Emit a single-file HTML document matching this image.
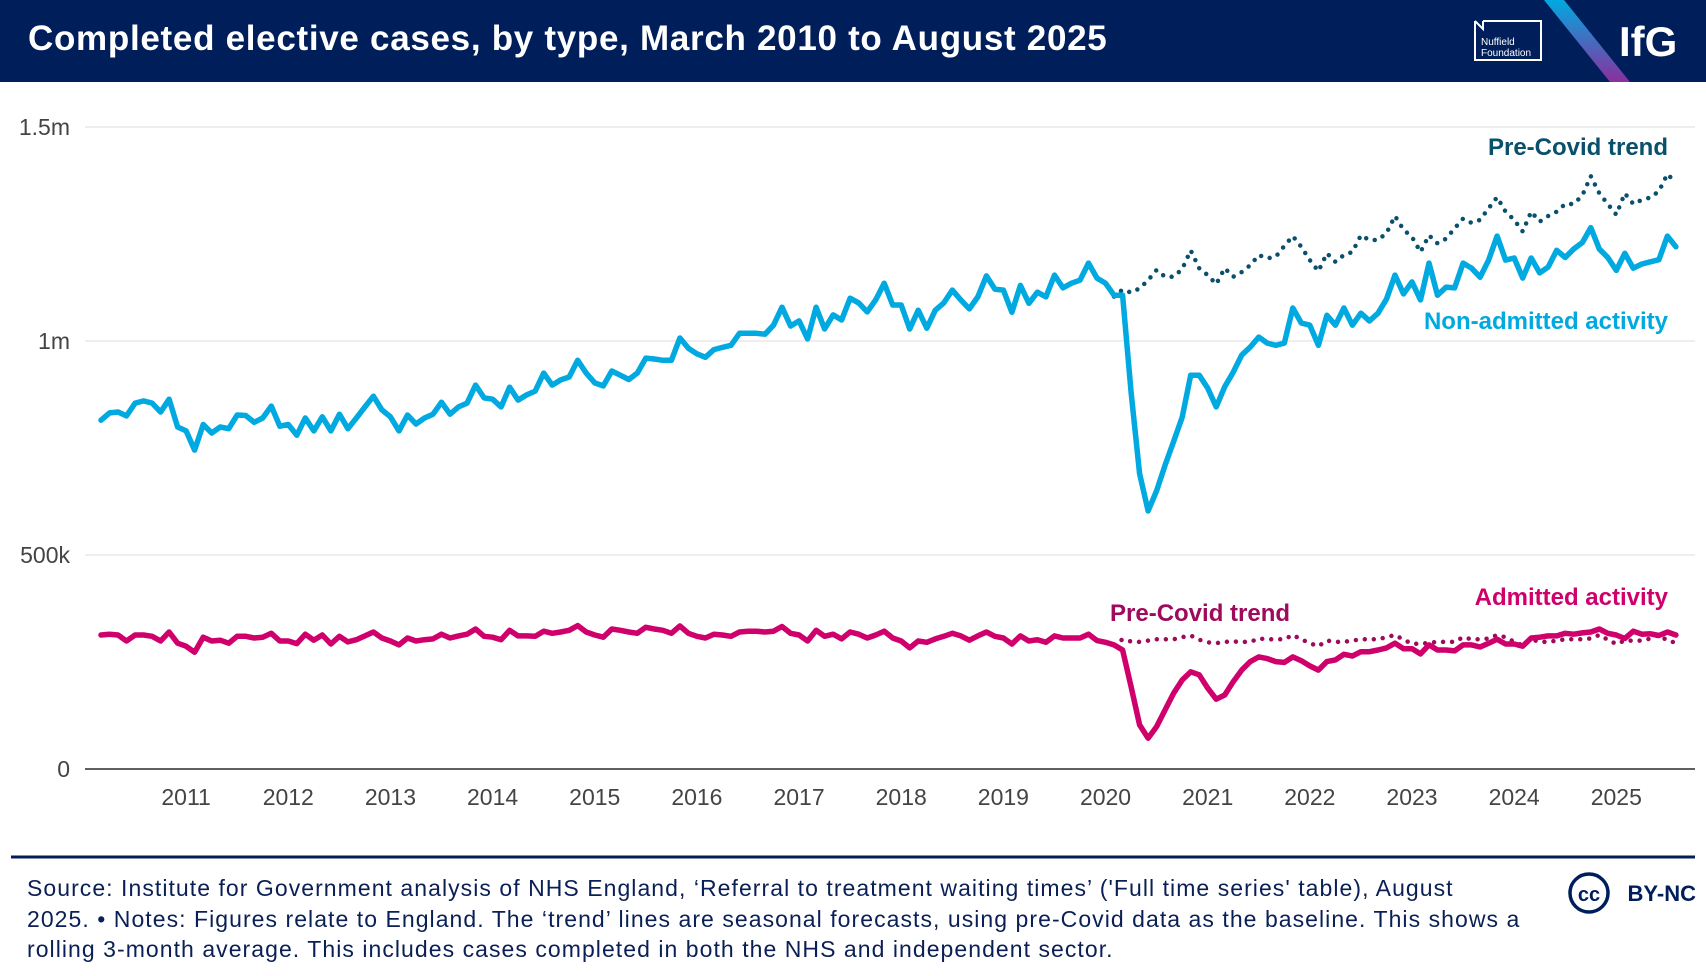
<!DOCTYPE html>
<html><head><meta charset="utf-8">
<style>
html,body{margin:0;padding:0;background:#fff;}
body{width:1706px;height:976px;position:relative;overflow:hidden;font-family:"Liberation Sans",sans-serif;}
#hdr{position:absolute;left:0;top:0;width:1706px;height:82px;background:#001e5a;}
#title{position:absolute;left:28px;top:19px;color:#fff;font-weight:bold;font-size:35px;letter-spacing:0.7px;white-space:nowrap;}
#src{position:absolute;left:27px;top:873px;width:1545px;color:#0a1f55;font-size:23px;letter-spacing:1.05px;line-height:30.5px;}
#chart{position:absolute;left:0;top:0;}
</style></head>
<body>
<div id="hdr">
  <div id="title">Completed elective cases, by type, March 2010 to August 2025</div>
  <svg width="1706" height="82" style="position:absolute;left:0;top:0">
    <defs><linearGradient id="g1" x1="0" y1="0" x2="0" y2="1"><stop offset="0" stop-color="#00a9e0"/><stop offset="1" stop-color="#8a2f9e"/></linearGradient></defs>
    <polygon points="1544,0 1564,0 1630,82 1610,82" fill="url(#g1)"/>
    <path d="M1475,21 L1475,60 L1541,60 L1541,21 L1483,21" fill="none" stroke="#fff" stroke-width="2"/>
    <path d="M1475,21 L1483,29 L1483,21" fill="none" stroke="#fff" stroke-width="2"/>
    <text x="1481" y="45" fill="#fff" font-size="10" font-family="Liberation Sans">Nuffield</text>
    <text x="1481" y="56" fill="#fff" font-size="10" font-family="Liberation Sans">Foundation</text>
    <text x="1619" y="56" fill="#fff" font-size="42" font-weight="bold" font-family="Liberation Sans">IfG</text>
  </svg>
</div>
<svg id="chart" width="1706" height="976"></svg>
<div id="src">Source: Institute for Government analysis of NHS England, ‘Referral to treatment waiting times’ ('Full time series' table), August<br>2025. • Notes: Figures relate to England. The ‘trend’ lines are seasonal forecasts, using pre-Covid data as the baseline. This shows a<br>rolling 3-month average. This includes cases completed in both the NHS and independent sector.</div>
<script>
const yearLabels=["2011","2012","2013","2014","2015","2016","2017","2018","2019","2020","2021","2022","2023","2024","2025"];
const yTicks=[0,500,1000,1500];
const yTickLabels=["0","500k","1m","1.5m"];
const nonAdmitted=[815,832,834,825,855,860,855,834,864,799,790,745,805,785,799,795,827,826,810,820,848,801,805,780,820,790,823,790,829,795,820,846,871,839,823,790,827,806,820,829,857,829,846,855,897,867,864,846,892,862,874,883,925,897,909,916,955,925,902,895,930,920,910,925,960,958,955,955,1007,983,970,962,980,985,990,1018,1018,1018,1016,1037,1079,1035,1047,1005,1079,1028,1061,1049,1100,1089,1068,1096,1135,1084,1084,1028,1072,1030,1072,1089,1119,1096,1075,1103,1152,1121,1119,1067,1130,1088,1114,1103,1154,1124,1135,1142,1182,1147,1135,1107,1107,880,690,603,650,710,765,822,920,920,890,846,893,927,967,986,1009,995,990,995,1077,1042,1037,990,1060,1037,1077,1037,1065,1047,1065,1098,1154,1110,1138,1096,1182,1107,1126,1124,1182,1170,1149,1189,1245,1189,1194,1147,1194,1159,1173,1212,1195,1215,1230,1265,1215,1195,1165,1205,1170,1180,1185,1190,1245,1220];
const admitted=[313,315,313,299,313,313,310,299,320,294,287,273,308,299,301,294,310,310,306,308,317,299,299,293,315,301,313,292,310,297,302,311,320,306,299,290,306,299,302,304,315,306,311,315,327,310,308,302,324,311,311,310,322,317,320,324,335,320,313,308,327,324,320,317,331,327,324,317,334,317,310,306,315,313,310,320,322,322,320,322,333,317,313,299,324,310,315,304,320,315,306,313,322,306,299,283,299,296,304,310,317,311,301,311,320,310,306,292,311,299,302,296,311,306,306,306,315,300,296,290,278,192,103,72,99,138,177,208,227,220,189,163,173,204,231,251,262,258,251,249,262,253,241,231,251,255,268,264,274,274,278,283,294,281,281,269,290,278,278,276,290,290,285,294,303,292,292,287,306,308,311,311,317,315,318,320,327,317,313,305,322,315,316,312,320,313];
const trendStart=119;
const nonAdmittedTrend=[1104,1120,1113,1123,1142,1166,1150,1150,1168,1212,1170,1154,1133,1170,1150,1161,1177,1201,1193,1197,1222,1245,1220,1189,1163,1205,1185,1201,1208,1247,1236,1236,1252,1292,1260,1243,1208,1247,1228,1239,1263,1286,1276,1283,1310,1336,1302,1283,1256,1302,1279,1292,1302,1320,1320,1340,1385,1345,1320,1295,1345,1320,1330,1335,1350,1390,1370];
const admittedTrend=[290,303,298,297,300,303,303,303,308,312,302,296,294,297,298,297,297,305,303,303,303,313,303,294,287,300,297,297,300,303,303,303,308,313,302,293,292,295,297,297,297,308,303,303,305,313,308,297,289,303,297,297,300,303,303,303,305,313,302,292,300,300,300,305,313,300,295];

const NS='http://www.w3.org/2000/svg';
const svg=document.getElementById('chart');
function xS(i){return 101+i*8.513;}
function yS(v){return 769-v*0.428;}
function mk(tag,attrs,parent){const e=document.createElementNS(NS,tag);for(const k in attrs)e.setAttribute(k,attrs[k]);(parent||svg).appendChild(e);return e;}

yTicks.forEach((t,k)=>{
  if(t>0){const g=mk('line',{x1:85,x2:1695,y1:yS(t),y2:yS(t),stroke:'#e8e8e8','stroke-width':1.5});
  
  }
  const l=mk('text',{x:70,y:yS(t)+8,'text-anchor':'end','font-size':23,fill:'#444','font-family':'Liberation Sans'});
  l.textContent=yTickLabels[k];
  
  
});
const ax=mk('line',{x1:85,x2:1695,y1:769,y2:769,stroke:'#2b2b2b','stroke-width':1.5});


yearLabels.forEach((yl,k)=>{
  const t=mk('text',{x:xS(10+12*k),y:805,'text-anchor':'middle','font-size':23,fill:'#444','font-family':'Liberation Sans'});
  t.textContent=yl;
  
  
});
function pts(arr,off){return arr.map((v,i)=>xS(i+off).toFixed(1)+','+yS(v).toFixed(1)).join(' ');}
const l1=mk('polyline',{points:pts(nonAdmittedTrend,trendStart),fill:'none',stroke:'#08506b','stroke-width':4.5,'stroke-linecap':'round','stroke-dasharray':'0 9'});


const l2=mk('polyline',{points:pts(admittedTrend,trendStart),fill:'none',stroke:'#9e0a5c','stroke-width':4.5,'stroke-linecap':'round','stroke-dasharray':'0 9'});


const l3=mk('polyline',{points:pts(nonAdmitted,0),fill:'none',stroke:'#00a9e0','stroke-width':5.5,'stroke-linejoin':'round','stroke-linecap':'round'});


const l4=mk('polyline',{points:pts(admitted,0),fill:'none',stroke:'#cf006b','stroke-width':5.5,'stroke-linejoin':'round','stroke-linecap':'round'});



function lab(txt,x,y,col,anchor,name){const t=mk('text',{x:x,y:y,'text-anchor':anchor,'font-size':24,'font-weight':'bold',fill:col,'font-family':'Liberation Sans'});t.textContent=txt;

}
lab('Pre-Covid trend',1668,155,'#08506b','end','non-admitted-trend-label');
lab('Non-admitted activity',1668,329,'#00a9e0','end','non-admitted-label');
lab('Pre-Covid trend',1110,621,'#9e0a5c','start','admitted-trend-label');
lab('Admitted activity',1668,605,'#cf006b','end','admitted-label');

const fl=mk('line',{x1:11,x2:1695,y1:857,y2:857,stroke:'#001e5a','stroke-width':3});


const cc=mk('circle',{cx:1589,cy:893,r:19,fill:'none',stroke:'#001e5a','stroke-width':3.5});


const cct=mk('text',{x:1589,y:901,'text-anchor':'middle','font-size':20,'font-weight':'bold',fill:'#001e5a','font-family':'Liberation Sans'});
cct.textContent='cc';
const by=mk('text',{x:1696,y:901,'text-anchor':'end','font-size':22,'font-weight':'bold',fill:'#001e5a','font-family':'Liberation Sans'});
by.textContent='BY-NC';


</script>
</body></html>
